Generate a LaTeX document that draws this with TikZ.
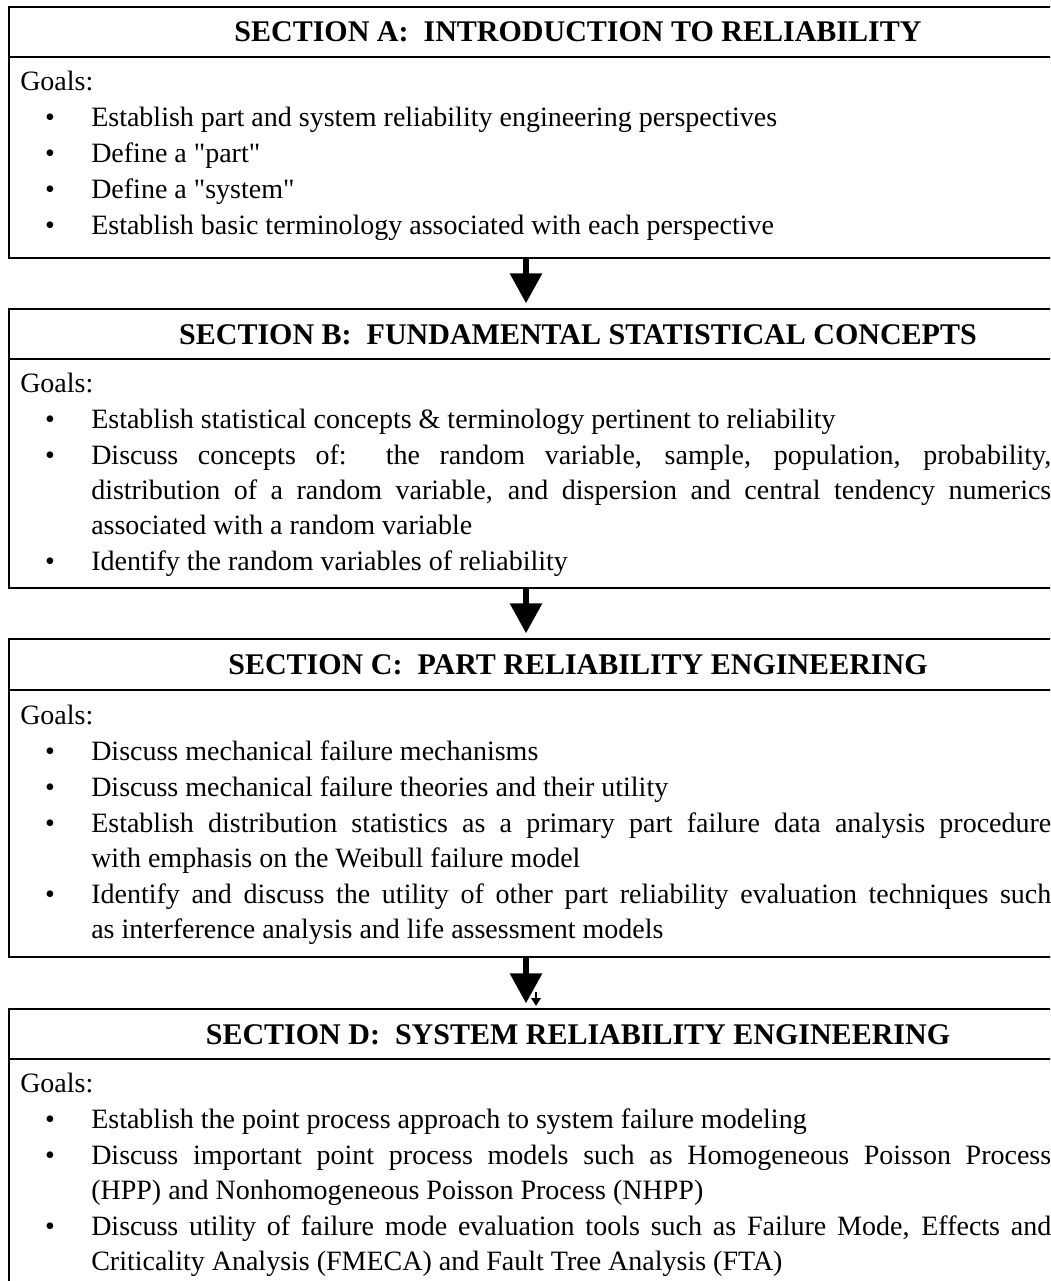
\documentclass[tikz,border=0pt]{standalone}
\usepackage{fontspec}
\setmainfont{Liberation Serif}
\newfontfamily\qfont{Liberation Serif}
\usetikzlibrary{arrows.meta}
\newcommand\jline[1]{\makebox[720pt][s]{#1}}
\newcommand\sq{{\qfont"}}
\begin{document}
\begin{tikzpicture}[x=0.75pt,y=-0.75pt,
  box/.style={draw, line width=1.5pt, anchor=north west, minimum width=1140*0.75pt, inner sep=0pt},
  sep/.style={line width=1.5pt},
  head/.style={font=\fontsize{22.5}{27}\selectfont\bfseries, anchor=base, inner sep=0pt},
  body/.style={font=\fontsize{21}{25}\selectfont, anchor=base west, inner sep=0pt},
  bul/.style={font=\fontsize{21}{25}\selectfont, anchor=base, inner sep=0pt},
  flow/.style={line width=4.5pt, -{Triangle[length=22.5pt,width=23.25pt]}, shorten >=3.5pt},
  tiny/.style={line width=1.5pt, -{Triangle[length=6pt,width=7pt]}}
]
\useasboundingbox (0,0) rectangle (1050,1281);
\clip (0,0) rectangle (1050,1281);
\coordinate (ax) at (526,0);
% boxes
\node[box, minimum height=251*0.75pt] (A) at (8,6) {};
\node[box, minimum height=279*0.75pt] (B) at (8,308) {};
\node[box, minimum height=318*0.75pt] (C) at (8,638) {};
\node[box, minimum height=300*0.75pt] (D) at (8,1008) {};
\draw[sep] (8,57) -- (1148,57);
\draw[sep] (8,359) -- (1148,359);
\draw[sep] (8,690) -- (1148,690);
\draw[sep] (8,1059) -- (1148,1059);
% headers
\node[head] (hA) at (578,42) {SECTION A:\ \ INTRODUCTION TO RELIABILITY};
\node[head] (hB) at (578,344) {SECTION B:\ \ FUNDAMENTAL STATISTICAL CONCEPTS};
\node[head] (hC) at (578,674) {SECTION C:\ \ PART RELIABILITY ENGINEERING};
\node[head] (hD) at (578,1044) {SECTION D:\ \ SYSTEM RELIABILITY ENGINEERING};
% section A
\node[body] (gA) at (20,90) {Goals:};
\node[bul] (pA1) at (50,126) {\textbullet};
\node[body] (tA1) at (91,126) {Establish part and system reliability engineering perspectives};
\node[bul] (pA2) at (50,162) {\textbullet};
\node[body] (tA2) at (91,162) {Define a \sq part\sq};
\node[bul] (pA3) at (50,198) {\textbullet};
\node[body] (tA3) at (91,198) {Define a \sq system\sq};
\node[bul] (pA4) at (50,234) {\textbullet};
\node[body] (tA4) at (91,234) {Establish basic terminology associated with each perspective};
% section B
\node[body] (gB) at (20,392) {Goals:};
\node[bul] (pB1) at (50,428) {\textbullet};
\node[body] (tB1) at (91,428) {Establish statistical concepts \& terminology pertinent to reliability};
\node[bul] (pB2) at (50,464) {\textbullet};
\node[body] (tB2) at (91,464) {\jline{Discuss concepts of:\ \ the random variable, sample, population, probability,}};
\node[body] (tB2b) at (91,499) {\jline{distribution of a random variable, and dispersion and central tendency numerics}};
\node[body] (tB2c) at (91,534) {associated with a random variable};
\node[bul] (pB3) at (50,570) {\textbullet};
\node[body] (tB3) at (91,570) {Identify the random variables of reliability};
% section C
\node[body] (gC) at (20,724) {Goals:};
\node[bul] (pC1) at (50,760) {\textbullet};
\node[body] (tC1) at (91,760) {Discuss mechanical failure mechanisms};
\node[bul] (pC2) at (50,796) {\textbullet};
\node[body] (tC2) at (91,796) {Discuss mechanical failure theories and their utility};
\node[bul] (pC3) at (50,832) {\textbullet};
\node[body] (tC3) at (91,832) {\jline{Establish distribution statistics as a primary part failure data analysis procedure}};
\node[body] (tC3b) at (91,867) {with emphasis on the Weibull failure model};
\node[bul] (pC4) at (50,903) {\textbullet};
\node[body] (tC4) at (91,903) {\jline{Identify and discuss the utility of other part reliability evaluation techniques such}};
\node[body] (tC4b) at (91,938) {as interference analysis and life assessment models};
% section D
\node[body] (gD) at (20,1092) {Goals:};
\node[bul] (pD1) at (50,1128) {\textbullet};
\node[body] (tD1) at (91,1128) {Establish the point process approach to system failure modeling};
\node[bul] (pD2) at (50,1164) {\textbullet};
\node[body] (tD2) at (91,1164) {\jline{Discuss important point process models such as Homogeneous Poisson Process}};
\node[body] (tD2b) at (91,1199) {(HPP) and Nonhomogeneous Poisson Process (NHPP)};
\node[bul] (pD3) at (50,1235) {\textbullet};
\node[body] (tD3) at (91,1235) {\jline{Discuss utility of failure mode evaluation tools such as Failure Mode, Effects and}};
\node[body] (tD3b) at (91,1270) {Criticality Analysis (FMECA) and Fault Tree Analysis (FTA)};
% arrows
\draw[flow] (A.south -| ax) -- (B.north -| ax);
\draw[flow] (B.south -| ax) -- (C.north -| ax);
\draw[flow] (C.south -| ax) -- (D.north -| ax);
\coordinate (sm1) at (536,992);
\coordinate (sm2) at (536,1006);
\draw[tiny] (sm1) -- (sm2);
\end{tikzpicture}
\end{document}
